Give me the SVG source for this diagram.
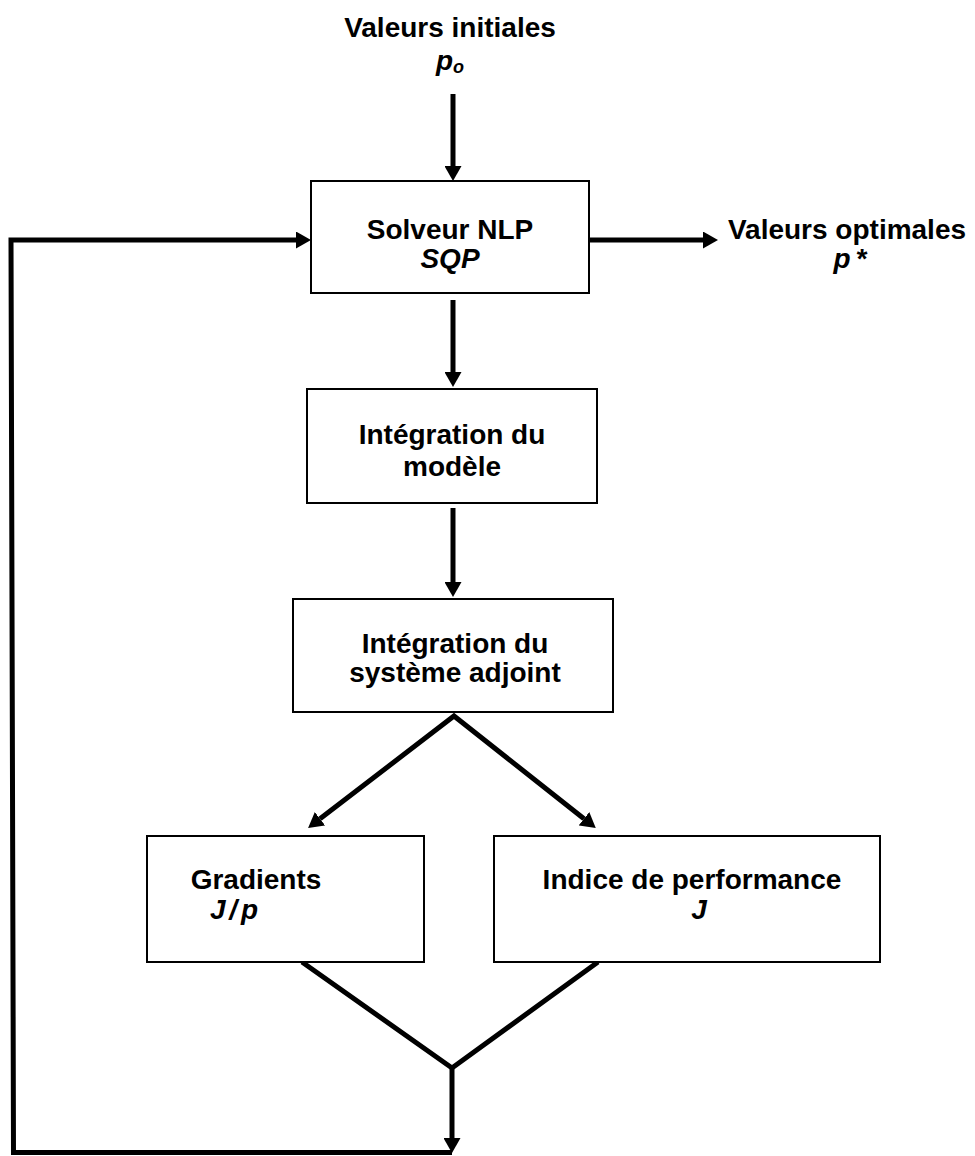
<svg xmlns="http://www.w3.org/2000/svg" width="975" height="1156" viewBox="0 0 975 1156">
  <defs>
    <style>
      .box { fill: #ffffff; stroke: #000000; stroke-width: 2; }
      .lbl { font-family: "Liberation Sans", Arial, sans-serif; font-size: 28px; font-weight: bold; fill: #000000; text-anchor: middle; }
      .it { font-style: italic; }
      .sub { font-size: 18px; }
      .wire { fill: none; stroke: #000000; stroke-width: 5; stroke-linejoin: miter; }
    </style>
    <marker id="head" viewBox="0 0 15 17" markerWidth="15" markerHeight="17" refX="0" refY="8.5" orient="auto" markerUnits="userSpaceOnUse">
      <path d="M0,0 L15,8.5 L0,17 z" fill="#000000"/>
    </marker>
    <marker id="headStart" viewBox="0 0 15 17" markerWidth="15" markerHeight="17" refX="0" refY="8.5" orient="auto-start-reverse" markerUnits="userSpaceOnUse">
      <path d="M0,0 L15,8.5 L0,17 z" fill="#000000"/>
    </marker>
  </defs>

  <rect width="975" height="1156" fill="#ffffff"/>

  <!-- connectors -->
  <g id="connectors">
    <line class="wire" x1="453" y1="94" x2="453" y2="166" marker-end="url(#head)"/>
    <line class="wire" x1="453" y1="300" x2="453" y2="372" marker-end="url(#head)"/>
    <line class="wire" x1="453" y1="508" x2="453" y2="582" marker-end="url(#head)"/>
    <line class="wire" x1="589" y1="240" x2="703" y2="240" marker-end="url(#head)"/>
    <polyline class="wire" points="320,818.8 454,716 584,818.7" marker-start="url(#headStart)" marker-end="url(#head)"/>
    <polyline class="wire" points="302,962 452,1068 598,962"/>
    <line class="wire" x1="452" y1="1066" x2="452" y2="1138" marker-end="url(#head)"/>
    <polyline class="wire" points="452,1152.5 13.5,1152.5 11,240 296,240" marker-end="url(#head)"/>
  </g>

  <!-- inputs / outputs -->
  <g id="initial-values">
    <text class="lbl" x="450" y="37">Valeurs initiales</text>
    <text class="lbl it" x="450" y="70">p<tspan class="sub" dy="3">o</tspan></text>
  </g>

  <g id="optimal-values">
    <text class="lbl" x="847" y="239">Valeurs optimales</text>
    <text class="lbl it" x="850" y="268" style="word-spacing:-3px">p *</text>
  </g>

  <!-- process nodes -->
  <g id="nlp-solver">
    <rect class="box" x="311" y="181" width="278" height="112"/>
    <text class="lbl" x="450" y="239">Solveur NLP</text>
    <text class="lbl it" x="450" y="268">SQP</text>
  </g>

  <g id="model-integration">
    <rect class="box" x="307" y="389" width="290" height="114"/>
    <text class="lbl" x="452" y="444">Intégration du</text>
    <text class="lbl" x="452" y="476">modèle</text>
  </g>

  <g id="adjoint-integration">
    <rect class="box" x="293" y="599" width="320" height="113"/>
    <text class="lbl" x="455" y="653">Intégration du</text>
    <text class="lbl" x="455" y="682">système adjoint</text>
  </g>

  <g id="gradients">
    <rect class="box" x="147" y="836" width="277" height="126"/>
    <text class="lbl" x="256" y="889">Gradients</text>
    <text class="lbl it" x="234" y="919" style="word-spacing:-4px">J / p</text>
  </g>

  <g id="performance-index">
    <rect class="box" x="494" y="836" width="386" height="126"/>
    <text class="lbl" x="692" y="889">Indice de performance</text>
    <text class="lbl it" x="699" y="919">J</text>
  </g>
</svg>
